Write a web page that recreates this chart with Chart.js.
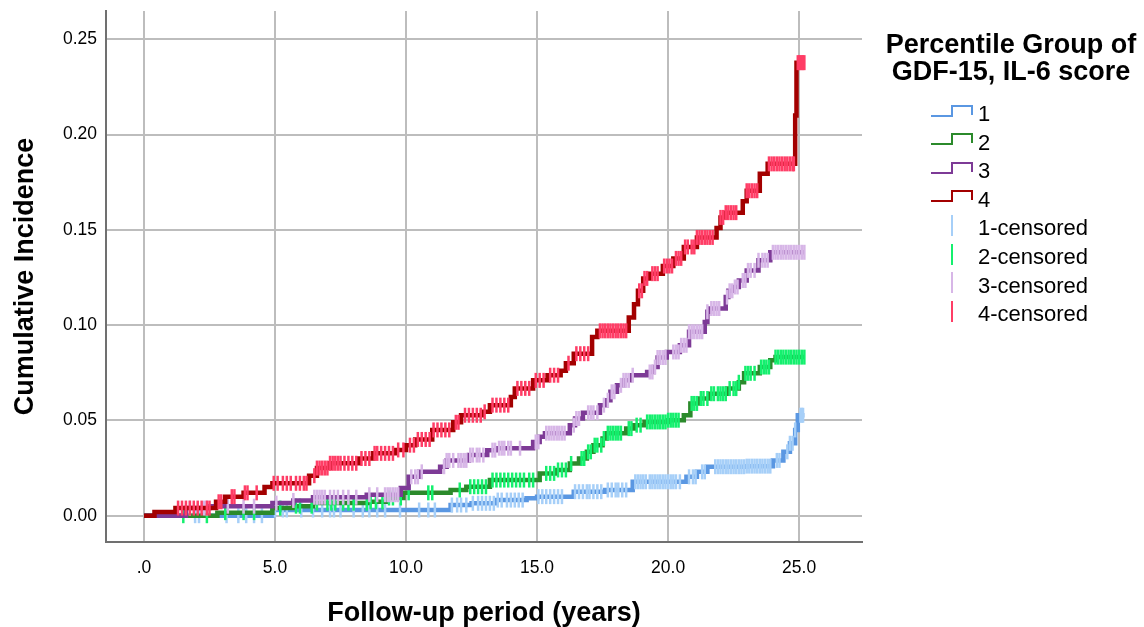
<!DOCTYPE html>
<html>
<head>
<meta charset="utf-8">
<title>Cumulative Incidence</title>
<script src="https://cdn.jsdelivr.net/npm/chart.js@4.4.0/dist/chart.umd.min.js"></script>
<style>
  body { margin: 0; background: #fff; }
  #wrap { position: relative; width: 1144px; height: 627px; font-family: 'Liberation Sans', Arial, sans-serif; color: #000; }
  #legendTitle { position: absolute; left: 876px; top: 31px; width: 270px; text-align: center; font-weight: bold; font-size: 27px; line-height: 27px; }
  .item { position: absolute; left: 931px; width: 200px; height: 28px; }
  .item span { position: absolute; left: 47px; top: 0; font-size: 22px; line-height: 28px; white-space: nowrap; }
  .item svg { position: absolute; left: 0; }
</style>
</head>
<body>
<div id="wrap">
  <canvas id="kmChart" width="1144" height="627"></canvas>
  <div id="legendTitle">Percentile Group of<br>GDF-15, IL-6 score</div>
  <div id="legend"></div>
</div>
<script>
// Axis ticks
const xTickValues = [0, 5, 10, 15, 20, 25];
const xTickLabels = ['.0', '5.0', '10.0', '15.0', '20.0', '25.0'];
const yTickValues = [0, 0.05, 0.10, 0.15, 0.20, 0.25];
const yTickLabels = ['0.00', '0.05', '0.10', '0.15', '0.20', '0.25'];

const groupNames = ['1', '2', '3', '4'];

// Group 1 - step curve (event times / cumulative incidence) and censored times
const g1Times = [0, 4.9, 11.7, 12.5, 13.45, 14.6, 15.0, 16.4, 17.6, 18.65, 20.7, 21.1, 21.5, 23.0, 24.0, 24.4, 24.65, 24.85, 24.95, 25.2];
const g1Incidence = [0, 0.003, 0.0056, 0.0065, 0.0082, 0.0091, 0.010, 0.0126, 0.0135, 0.0178, 0.0204, 0.023, 0.0257, 0.026, 0.029, 0.0335, 0.038, 0.045, 0.0527, 0.0527];
const g1Censored = [1.95, 2.1, 3.15, 3.6, 3.9, 4.2, 4.5, 5.0, 5.3, 5.45, 6.0, 6.45, 6.8, 7.1, 7.25, 7.5, 8.0, 8.35, 8.6, 8.9,
    9.2, 9.77, 10.5, 10.85, 11.1, 11.75, 11.95, 12.1, 12.3, 12.55, 12.75, 12.9, 13.05, 13.2, 13.35, 13.5, 13.65, 13.85,
    14.0, 14.15, 14.3, 14.45, 15.05, 15.2, 15.35, 15.5, 15.65, 15.8, 15.95, 16.45, 16.6, 16.75, 16.9, 17.0, 17.15, 17.3,
    17.45, 17.7, 17.85, 18.0, 18.1, 18.25, 18.4, 18.75, 18.85, 18.95, 19.05, 19.15, 19.3, 19.4, 19.5, 19.6, 19.7, 19.8,
    19.9, 20.0, 20.1, 20.2, 20.3, 20.45, 20.8, 20.95, 21.05, 21.3, 21.4, 21.8, 21.9, 22.0, 22.1, 22.2, 22.3, 22.4, 22.5,
    22.6, 22.7, 22.8, 22.9, 23.0, 23.1, 23.2, 23.3, 23.4, 23.5, 23.6, 23.7, 23.8, 23.9, 24.15, 24.25, 24.55, 24.65,
    24.75, 24.85, 25.05, 25.1, 25.15];

// Group 2
const g2Times = [0, 2.8, 4.9, 5.7, 6.45, 8.6, 9.3, 9.9, 11.7, 12.3, 13.2, 15.1, 15.75, 16.25, 16.6, 16.9, 17.15, 17.5, 17.65, 18.4, 18.7, 19.1, 20.0, 20.6, 20.85, 21.2, 21.6, 22.25, 22.7, 22.9, 23.5, 23.9, 24.1, 25.2];
const g2Incidence = [0, 0.0016, 0.004, 0.005, 0.0066, 0.0073, 0.0093, 0.012, 0.0135, 0.0152, 0.0187, 0.0222, 0.024, 0.0274, 0.030, 0.0335, 0.037, 0.0405, 0.0433, 0.0457, 0.0475, 0.0492, 0.0501, 0.0527, 0.0589, 0.0615, 0.064, 0.0667, 0.070, 0.0747, 0.078, 0.0815, 0.0832, 0.0832];
const g2Censored = [1.5, 2.4, 3.1, 3.8, 4.2, 5.2, 5.8, 5.95, 6.4, 6.6, 7.0, 7.15, 7.3, 7.6, 7.8, 8.0, 8.5, 8.65, 8.85, 9.1,
    9.35, 9.5, 9.8, 10.1, 10.85, 11.0, 12.05, 12.45, 12.6, 12.75, 12.9, 13.05, 13.3, 13.45, 13.6, 13.75, 13.9, 14.05,
    14.2, 14.35, 14.5, 14.7, 14.85, 15.35, 15.5, 15.65, 15.8, 15.95, 16.1, 16.3, 16.7, 16.8, 16.95, 17.05, 17.2, 17.3,
    17.45, 17.55, 17.7, 17.8, 17.9, 18.0, 18.1, 18.2, 18.5, 18.6, 18.8, 18.95, 19.2, 19.3, 19.4, 19.5, 19.6, 19.7, 19.8,
    19.9, 20.0, 20.1, 20.2, 20.3, 20.4, 20.9, 21.0, 21.1, 21.25, 21.35, 21.5, 21.65, 21.75, 21.9, 22.0, 22.1, 22.2,
    22.35, 22.5, 22.6, 22.7, 22.95, 23.05, 23.15, 23.3, 23.55, 23.65, 23.75, 23.85, 24.1, 24.2, 24.3, 24.4, 24.5,
    24.6, 24.7, 24.8, 24.9, 25.0, 25.1, 25.2];

// Group 3
const g3Times = [0, 1.6, 2.5, 4.9, 5.7, 6.45, 8.5, 9.8, 10.1, 10.5, 11.3, 11.55, 12.4, 13.1, 13.5, 14.85, 15.1, 15.3, 16.25, 16.45, 16.75, 17.4, 17.65, 17.8, 18.05, 18.3, 18.55, 19.2, 19.45, 19.6, 19.95, 20.45, 20.8, 21.4, 21.5, 21.6, 22.2, 22.3, 22.5, 22.7, 23.0, 23.45, 23.9, 25.2];
const g3Incidence = [0, 0.004, 0.005, 0.0066, 0.008, 0.0097, 0.011, 0.0145, 0.0204, 0.023, 0.0257, 0.029, 0.0318, 0.0344, 0.0354, 0.0387, 0.0414, 0.0433, 0.0475, 0.051, 0.054, 0.058, 0.0606, 0.065, 0.0684, 0.071, 0.0737, 0.0754, 0.078, 0.083, 0.0859, 0.0894, 0.0965, 0.1016, 0.107, 0.1087, 0.1147, 0.118, 0.12, 0.1234, 0.1287, 0.134, 0.1382, 0.1382];
const g3Censored = [1.75, 2.3, 2.4, 3.2, 3.8, 4.2, 5.05, 5.7, 6.5, 6.6, 6.7, 6.8, 6.9, 7.1, 7.25, 7.4, 7.6, 7.8, 8.1, 8.6,
    8.9, 9.2, 9.3, 9.4, 9.5, 9.6, 9.7, 10.2, 10.35, 10.45, 10.6, 11.45, 11.55, 11.65, 11.8, 12.0, 12.1, 12.2, 12.3,
    12.45, 12.55, 12.7, 12.8, 12.95, 13.3, 13.4, 13.55, 13.65, 13.75, 13.9, 14.0, 14.35, 14.95, 15.05, 15.35, 15.45,
    15.55, 15.65, 15.75, 15.85, 15.95, 16.05, 16.4, 16.5, 16.6, 16.95, 17.05, 17.15, 17.3, 17.55, 17.7, 17.85, 17.95,
    18.2, 18.3, 18.4, 18.5, 18.65, 19.3, 19.4, 19.5, 19.6, 19.7, 19.8, 19.9, 20.2, 20.3, 20.4, 20.5, 20.6, 20.7, 20.8,
    20.9, 21.0, 21.1, 21.2, 21.3, 21.5, 21.65, 21.75, 21.85, 21.95, 22.25, 22.35, 22.45, 22.55, 22.65, 22.85, 22.95,
    23.05, 23.15, 23.3, 23.45, 23.6, 23.7, 23.8, 24.0, 24.1, 24.2, 24.3, 24.4, 24.5, 24.6, 24.7, 24.8, 24.9, 25.0,
    25.1, 25.2];

// Group 4
const g4Times = [0, 0.4, 1.2, 2.75, 3.1, 3.8, 4.6, 4.9, 6.3, 6.6, 7.1, 8.2, 8.75, 9.6, 10.0, 10.35, 11.0, 11.8, 12.1, 12.9, 13.2, 14.0, 14.15, 14.85, 15.4, 15.9, 16.1, 16.4, 17.1, 17.3, 18.5, 18.7, 18.85, 19.05, 19.3, 19.8, 20.2, 20.6, 21.1, 21.85, 22.0, 22.2, 22.85, 23.0, 23.5, 23.8, 24.85, 24.9, 25.2];
const g4Incidence = [0, 0.002, 0.004, 0.0073, 0.010, 0.012, 0.015, 0.017, 0.021, 0.025, 0.0275, 0.030, 0.0327, 0.0345, 0.037, 0.040, 0.045, 0.049, 0.0527, 0.0545, 0.058, 0.0623, 0.0668, 0.071, 0.0737, 0.076, 0.080, 0.085, 0.0937, 0.097, 0.104, 0.111, 0.118, 0.1245, 0.127, 0.131, 0.135, 0.141, 0.146, 0.151, 0.1565, 0.159, 0.165, 0.1705, 0.1794, 0.1846, 0.21, 0.2377, 0.2377];
const g4Censored = [1.3, 1.45, 1.6, 1.75, 1.9, 2.05, 2.2, 2.4, 2.5, 2.85, 2.95, 3.35, 3.45, 3.85, 3.95, 4.3, 4.95, 5.1, 5.3,
    5.45, 5.6, 5.8, 5.95, 6.1, 6.2, 6.5, 6.6, 6.7, 6.8, 6.9, 7.0, 7.1, 7.2, 7.3, 7.4, 7.5, 7.65, 7.8, 7.95, 8.1, 8.3,
    8.45, 8.6, 8.8, 8.9, 9.05, 9.2, 9.35, 9.5, 9.7, 9.9, 10.15, 10.3, 10.45, 10.6, 10.75, 10.9, 11.05, 11.2, 11.35,
    11.5, 11.65, 11.9, 12.0, 12.25, 12.4, 12.55, 12.7, 12.85, 13.0, 13.3, 13.45, 13.6, 13.75, 13.9, 14.25, 14.4, 14.55,
    14.7, 14.95, 15.1, 15.25, 15.5, 15.65, 15.8, 16.2, 16.5, 16.65, 16.8, 16.95, 17.4, 17.5, 17.6, 17.7, 17.8, 17.9,
    18.0, 18.1, 18.2, 18.3, 18.4, 18.9, 19.0, 19.1, 19.2, 19.4, 19.5, 19.6, 19.85, 19.95, 20.05, 20.15, 20.3, 20.4,
    20.5, 20.65, 20.75, 20.9, 21.0, 21.1, 21.2, 21.3, 21.4, 21.5, 21.6, 21.7, 22.0, 22.1, 22.2, 22.3, 22.4, 22.5,
    22.6, 23.0, 23.1, 23.2, 23.3, 23.4, 23.85, 23.95, 24.05, 24.15, 24.25, 24.35, 24.45, 24.55, 24.65, 24.75, 24.8,
    24.95, 25.0, 25.05, 25.1, 25.15, 25.2];

// Colours: step line and censored mark per group
const lineColors = ['#5a97e2', '#2b8a2b', '#7d3a96', '#a30000'];
const censColors = ['#a6cff8', '#14f06e', '#d7b6e7', '#ff3d66'];

const FONT = "'Liberation Sans', Arial, sans-serif";

// value of a step curve at time t (censor marks sit on the curve)
function stepValue(times, values, t) {
    let v = values[0];
    for (let i = 0; i < times.length; i++) {
        if (times[i] <= t) v = values[i];
    }
    return v;
}

const groups = [
    { times: g1Times, inc: g1Incidence, cens: g1Censored },
    { times: g2Times, inc: g2Incidence, cens: g2Censored },
    { times: g3Times, inc: g3Incidence, cens: g3Censored },
    { times: g4Times, inc: g4Incidence, cens: g4Censored }
];

const datasets = [];
groups.forEach(function(g, i) {
    datasets.push({
        label: groupNames[i],
        data: g.times.map((t, k) => ({ x: t, y: g.inc[k] })),
        stepped: true,
        borderColor: lineColors[i],
        borderWidth: 4.5,
        pointRadius: 0,
        fill: false,
        order: (3 - i) * 2 + 1
    });
});
groups.forEach(function(g, i) {
    datasets.push({
        label: groupNames[i] + '-censored',
        data: g.cens.map(t => ({ x: t, y: stepValue(g.times, g.inc, t) })),
        showLine: false,
        pointStyle: 'line',
        rotation: 90,
        pointRadius: 7.5,
        pointBorderWidth: 2.5,
        borderColor: censColors[i],
        backgroundColor: censColors[i],
        order: (3 - i) * 2
    });
});

Chart.defaults.font.family = FONT;
Chart.defaults.color = '#000';

new Chart(document.getElementById('kmChart').getContext('2d'), {
    type: 'line',
    data: { datasets: datasets },
    options: {
        responsive: false,
        animation: false,
        events: [],
        layout: { padding: { top: 11, right: 282, left: 0, bottom: 0 } },
        plugins: { legend: { display: false }, tooltip: { enabled: false } },
        scales: {
            x: {
                type: 'linear',
                min: -1.45,
                max: 27.4,
                afterBuildTicks: function(scale) {
                    scale.ticks = xTickValues.map(v => ({ value: v }));
                },
                afterFit: function(scale) {
                    scale.height = 85;
                    scale.paddingLeft = 0;
                    scale.paddingRight = 0;
                },
                ticks: {
                    font: { size: 17.5 },
                    color: '#000',
                    padding: 16,
                    maxRotation: 0,
                    callback: (value, index) => xTickLabels[index]
                },
                grid: { color: '#bdbdbd', lineWidth: 2, drawTicks: false },
                border: { color: '#707070', width: 2 },
                title: {
                    display: true,
                    text: 'Follow-up period (years)',
                    font: { size: 27, weight: 'bold' },
                    color: '#000',
                    padding: { top: 0, bottom: -3 }
                }
            },
            y: {
                min: -0.0138,
                max: 0.2648,
                afterBuildTicks: function(scale) {
                    scale.ticks = yTickValues.map(v => ({ value: v }));
                },
                afterFit: function(scale) {
                    scale.width = 106;
                    scale.paddingTop = 0;
                    scale.paddingBottom = 0;
                },
                ticks: {
                    font: { size: 17.5 },
                    color: '#000',
                    padding: 9,
                    callback: (value, index) => yTickLabels[index]
                },
                grid: { color: '#bdbdbd', lineWidth: 2, drawTicks: false },
                border: { color: '#707070', width: 2 },
                title: {
                    display: true,
                    text: 'Cumulative Incidence',
                    font: { size: 27, weight: 'bold' },
                    color: '#000',
                    padding: { top: 9, bottom: 0 }
                }
            }
        }
    }
});

// Legend: step icons for curves, vertical ticks for censored marks
const legend = document.getElementById('legend');
const legendRows = [];
groupNames.forEach((n, i) => legendRows.push({ text: n, color: lineColors[i], kind: 'step' }));
groupNames.forEach((n, i) => legendRows.push({ text: n + '-censored', color: censColors[i], kind: 'tick' }));
legendRows.forEach(function(r, i) {
    const center = 114 + 28.6 * i;
    const div = document.createElement('div');
    div.className = 'item';
    div.style.top = (center - 14) + 'px';
    let svg;
    if (r.kind === 'step') {
        svg = '<svg width="43" height="12" style="top:' + (14 - 9.5) + 'px">' +
              '<polyline points="0,11 21,11 21,1 41,1 41,10" fill="none" stroke="' + r.color + '" stroke-width="2"/></svg>';
    } else {
        svg = '<svg width="42" height="22" style="top:' + (14 - 13.5) + 'px">' +
              '<line x1="21" y1="0" x2="21" y2="21" stroke="' + r.color + '" stroke-width="2"/></svg>';
    }
    div.innerHTML = svg + '<span>' + r.text + '</span>';
    legend.appendChild(div);
});
</script>
</body>
</html>
